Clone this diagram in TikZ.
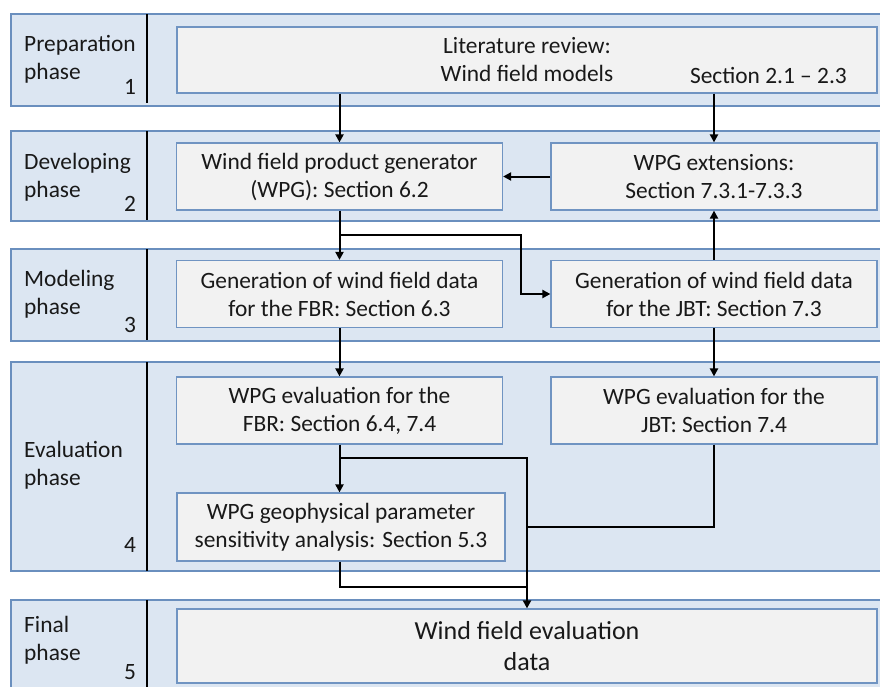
\documentclass[tikz,border=0pt]{standalone}
\usepackage{fontspec}
\setmainfont{Carlito}
\usetikzlibrary{arrows.meta}
\definecolor{bandblue}{HTML}{DCE6F2}
\definecolor{bandedge}{HTML}{6A8FBE}
\definecolor{boxgray}{HTML}{F2F2F2}
\definecolor{boxedge}{HTML}{7094C2}
\tikzset{ band/.style = { draw = bandedge % phase band
        , fill = bandblue
        , line width = 1.5pt
        }
        , phase/.style = { align = left % phase name
        , anchor = west
        , inner sep = 0pt
        }
        , num/.style = { inner sep = 0pt % phase number
        }
        }

\begin{document}
\begin{tikzpicture}[x=1pt, y=-1pt, font=\fontsize{23.4}{28}\selectfont, text=black!90,
        box_style/.style={draw=boxedge, fill=boxgray, line width=1.2pt, align=center, inner sep=0pt, minimum height=67pt},
        small_box/.style={box_style, minimum width=326pt},
        wide_box/.style={box_style, minimum width=700pt},
        edge_style/.style={draw=black, line width=2pt, -{Triangle[length=8pt,width=8pt]}},
        line_style/.style={draw=black, line width=2pt},
        divider_style/.style={draw=black, line width=1.5pt}]
        \useasboundingbox (0,0) rectangle (880,686);

        % phase bands
        \draw [band] (882,14) -- (11,14) -- (11,106) -- (882,106);
        \draw [band] (882,131) -- (11,131) -- (11,221) -- (882,221);
        \draw [band] (882,249) -- (11,249) -- (11,341) -- (882,341);
        \draw [band] (882,362) -- (11,362) -- (11,571) -- (882,571);
        \draw [band] (882,600) -- (11,600) -- (11,690) -- (882,690);
        \draw [divider_style] (147,14) -- (147,103);
        \draw [divider_style] (147,131) -- (147,220);
        \draw [divider_style] (147,249) -- (147,340);
        \draw [divider_style] (147,362) -- (147,571);
        \draw [divider_style] (147,600) -- (147,690);

        \node [phase] (p1) at (24,59) {Preparation\\phase};
        \node [phase] (p2) at (24,177) {Developing\\phase};
        \node [phase] (p3) at (24,294) {Modeling\\phase};
        \node [phase] (p4) at (24,465) {Evaluation\\phase};
        \node [phase] (p5) at (24,640) {Final\\phase};
        \node [num] (k1) at (130,87) {1};
        \node [num] (k2) at (130,204) {2};
        \node [num] (k3) at (130,325) {3};
        \node [num] (k4) at (130,545) {4};
        \node [num] (k5) at (130,672) {5};

        % boxes
        \node [wide_box, minimum height=66pt](lit) at (527,60) {Literature review:\\Wind field models};
        \node [anchor=east, inner sep=0pt](litsec) at (847,75) {Section 2.1 \textendash{} 2.3};
        \node [small_box](gen) at (339.5,176.5) {Wind field product generator\\(WPG): Section 6.2};
        \node [small_box](ext) at (714,176.5) {WPG extensions:\\Section 7.3.1-7.3.3};
        \node [small_box](fbr) at (339.5,294) {Generation of wind field data\\for the FBR: Section 6.3};
        \node [small_box](jbt) at (714,294) {Generation of wind field data\\for the JBT: Section 7.3};
        \node [small_box](evf) at (339.5,410.5) {WPG evaluation for the\\FBR: Section 6.4, 7.4};
        \node [small_box](evj) at (714,410.5) {WPG evaluation for the\\JBT: Section 7.4};
        \node [small_box, minimum width=328pt, minimum height=68pt](sens) at (341,527) {WPG geophysical parameter\\sensitivity analysis: Section 5.3};
        \node [wide_box, minimum height=74pt, font=\fontsize{26}{31}\selectfont](fin) at (527,646) {Wind field evaluation\\data};

        % connectors
        \coordinate (j1) at (340,235);
        \coordinate (j2) at (340,458);
        \coordinate (j3) at (527,458);
        \coordinate (j4) at (527,527);
        \coordinate (j5) at (527,587);
        \draw [edge_style] (lit.south -| gen.north) -- (gen.north);
        \draw [edge_style] (lit.south -| ext.north) -- (ext.north);
        \draw [edge_style] (ext.west) -- (gen.east);
        \draw [edge_style] (gen.south) -- (fbr.north);
        \draw [edge_style] (j1) -| ([xshift=-29pt]jbt.west) -- (jbt.west);
        \draw [edge_style] (jbt.north) -- (ext.south);
        \draw [edge_style] (fbr.south) -- (evf.north);
        \draw [edge_style] (jbt.south) -- (evj.north);
        \draw [edge_style] (evf.south) -- (evf.south |- sens.north);
        \draw [edge_style] (j2) -- (j3) -- (j3 |- fin.north);
        \draw [line_style] (evj.south) |- (j4);
        \draw [line_style] (sens.south -| j2) |- (j5);
\end{tikzpicture}
\end{document}
